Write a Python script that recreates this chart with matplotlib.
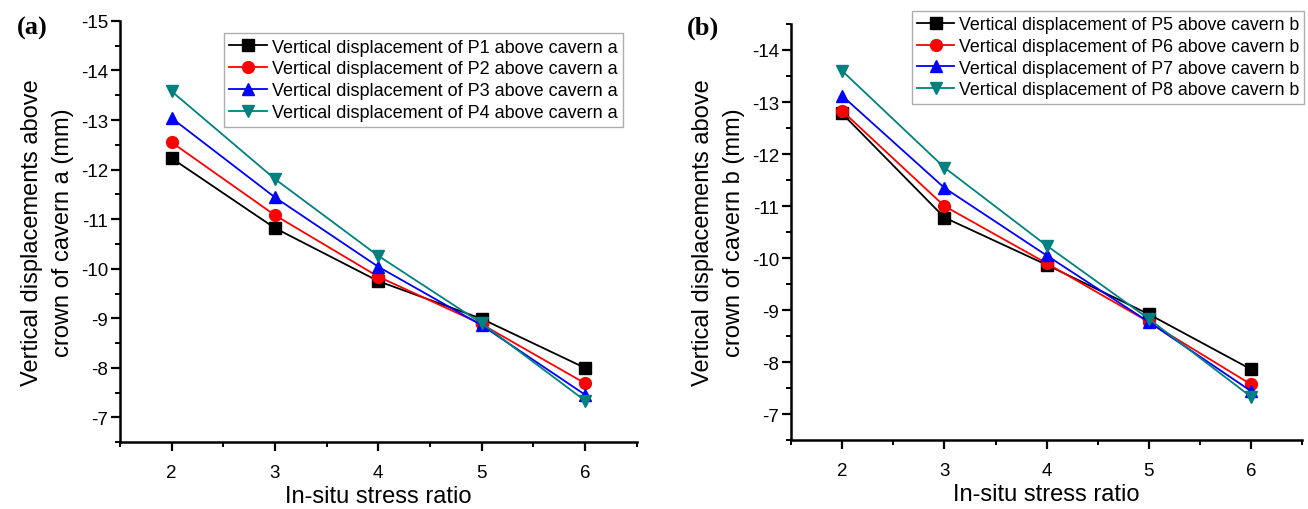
import numpy as np
import matplotlib.pyplot as plt
from matplotlib.ticker import MultipleLocator

plt.rcParams['font.family'] = ['Liberation Sans', 'DejaVu Sans']

# In-situ stress ratio
ratio = [2, 3, 4, 5, 6]

# Panel (a): cavern a
p1 = [-12.23, -10.82, -9.75, -8.99, -8.00]
p2 = [-12.55, -11.08, -9.84, -8.88, -7.69]
p3 = [-13.04, -11.44, -10.04, -8.86, -7.46]
p4 = [-13.58, -11.81, -10.26, -8.90, -7.34]

# Panel (b): cavern b
p5 = [-12.78, -10.78, -9.87, -8.92, -7.86]
p6 = [-12.83, -11.00, -9.90, -8.77, -7.57]
p7 = [-13.12, -11.35, -10.05, -8.77, -7.44]
p8 = [-13.60, -11.74, -10.24, -8.83, -7.33]

names_a = ["P1", "P2", "P3", "P4"]
names_b = ["P5", "P6", "P7", "P8"]

colors = ['black', '#ff0000', '#0000ff', '#008080']
markers = ['s', 'o', '^', 'v']

fig = plt.figure(figsize=(13.08, 5.1), dpi=100)
ax_a = fig.add_axes([0.0917, 0.131, 0.395, 0.826])
ax_b = fig.add_axes([0.6047, 0.135, 0.391, 0.816])


def draw_panel(ax, series, names, cavern, ylim, major_ticks, legend_xy, legend_fs):
    for vals, name, c, m in zip(series, names, colors, markers):
        ax.plot(ratio, vals, color=c, marker=m, markersize=8.5, linewidth=1.3,
                label=f"Vertical displacement of {name} above cavern {cavern}")
    ax.set_xlim(1.5, 6.5)
    ax.set_ylim(*ylim)
    ax.set_xticks([2, 3, 4, 5, 6])
    ax.xaxis.set_minor_locator(MultipleLocator(0.5))
    ax.set_yticks(major_ticks)
    ax.set_yticklabels([f"{int(t)}" for t in major_ticks])
    ax.yaxis.set_minor_locator(MultipleLocator(0.5))
    ax.spines['top'].set_visible(False)
    ax.spines['right'].set_visible(False)
    ax.spines['left'].set_linewidth(1.8)
    ax.spines['bottom'].set_linewidth(1.8)
    ax.tick_params(which='major', direction='out', length=6.5, width=1.6, labelsize=13.5)
    ax.tick_params(which='minor', direction='out', length=3.5, width=1.4)
    ax.tick_params(axis='x', which='major', pad=9)
    ax.tick_params(axis='y', which='major', pad=2)
    ax.set_xlabel("In-situ stress ratio", fontsize=17, labelpad=3)
    ax.set_ylabel(f"Vertical displacements above\ncrown of cavern {cavern} (mm)",
                  fontsize=17, labelpad=5, linespacing=1.5)
    leg = ax.legend(loc='upper left', bbox_to_anchor=legend_xy,
                    bbox_transform=fig.transFigure, fontsize=legend_fs, frameon=True,
                    fancybox=False, edgecolor='#999999', borderpad=0.3,
                    labelspacing=0.27, handlelength=2.1, handletextpad=0.25,
                    borderaxespad=0)
    leg.get_frame().set_linewidth(1.0)


draw_panel(ax_a, [p1, p2, p3, p4], names_a, "a", (-6.5, -15),
           np.arange(-15, -6, 1), (0.171, 0.933), 13)
draw_panel(ax_b, [p5, p6, p7, p8], names_b, "b", (-6.5, -14.5),
           np.arange(-14, -6, 1), (0.697, 0.977), 12.8)

fig.text(0.013, 0.945, "(a)", fontsize=19, fontweight='bold',
         family='Liberation Serif', va='center')
fig.text(0.525, 0.945, "(b)", fontsize=19, fontweight='bold',
         family='Liberation Serif', va='center')

fig.savefig("out.png", dpi=100)
